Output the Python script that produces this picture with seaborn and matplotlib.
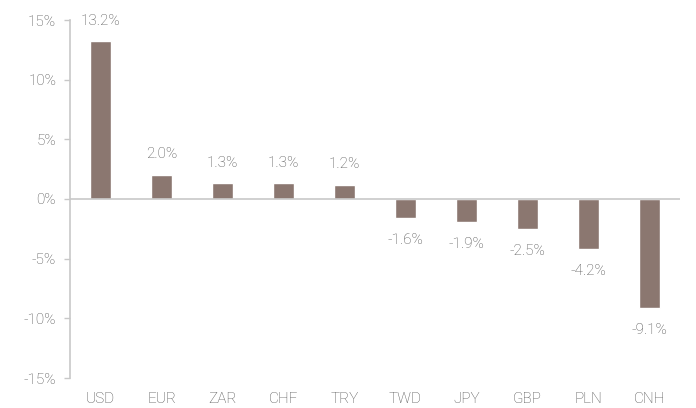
import matplotlib
matplotlib.use("Agg")
import matplotlib.pyplot as plt
import seaborn as sns
import pandas as pd

currencies = ["USD", "EUR", "ZAR", "CHF", "TRY", "TWD", "JPY", "GBP", "PLN", "CNH"]
changes = [13.2, 2.0, 1.3, 1.3, 1.2, -1.6, -1.9, -2.5, -4.2, -9.1]
yticks = [-15, -10, -5, 0, 5, 10, 15]

sns.set_theme(style="white")
plt.rcParams["font.family"] = ["Roboto", "DejaVu Sans"]
plt.rcParams["font.weight"] = "light"

df = pd.DataFrame({"cur": currencies, "chg": changes})
fig = plt.figure(figsize=(6.96, 4.08), dpi=100)
ax = fig.add_axes([70/696, 1-378/408, 610/696, 358/408])

text_c = "#505050"
line_c = "#c8c8c8"
fs = 11
sns.barplot(data=df, x="cur", y="chg", color="#8b7770", width=0.33, saturation=1, ax=ax)

ax.set_ylim(-15, 15)
ax.set_xlim(-0.5, len(currencies) - 0.5)
ax.set_yticks(yticks)
ax.set_yticklabels([f"{t}%" for t in yticks])
ax.axhline(0, color=line_c, lw=1.2)
for s in ["top", "right", "bottom"]:
    ax.spines[s].set_visible(False)
ax.spines["left"].set_color(line_c)
ax.spines["left"].set_linewidth(1.2)
ax.tick_params(axis="y", left=True, length=4, width=1, color=line_c, labelsize=fs, labelcolor=text_c, pad=6)
ax.tick_params(axis="x", bottom=False, labelsize=fs, labelcolor=text_c, pad=4)
ax.set_xlabel("")
ax.set_ylabel("")

for p, v in zip(ax.patches, changes):
    x = p.get_x() + p.get_width() / 2
    if v >= 0:
        ax.annotate(f"{v:.1f}%", (x, v), xytext=(0, 10), textcoords="offset points",
                    ha="center", va="bottom", fontsize=fs, color=text_c)
    else:
        ax.annotate(f"{v:.1f}%", (x, v), xytext=(0, -11), textcoords="offset points",
                    ha="center", va="top", fontsize=fs, color=text_c)

fig.savefig("out.png", dpi=100)
